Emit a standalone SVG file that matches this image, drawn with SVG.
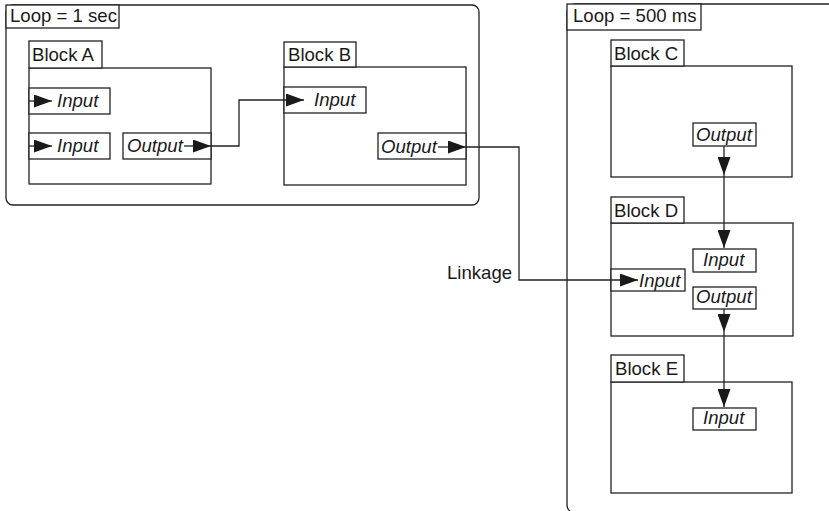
<svg xmlns="http://www.w3.org/2000/svg" width="829" height="511" viewBox="0 0 829 511">
<style>
.box{fill:#fff;stroke:#222;stroke-width:1.3}
.loop{fill:none;stroke:#222;stroke-width:1.3}
.t{font-family:"Liberation Sans",Arial,sans-serif;font-size:18.6px;fill:#1a1a1a}
.i{font-style:italic}
.c{fill:none;stroke:#222;stroke-width:1.3}
</style>
<defs>
<marker id="ah" markerUnits="userSpaceOnUse" markerWidth="18" markerHeight="13" refX="18" refY="6.5" orient="auto">
<path d="M0,0 L18,6.5 L0,13 z" fill="#1a1a1a"/>
</marker>
</defs>
<rect width="829" height="511" fill="#fff"/>

<g id="loop1">
<rect class="loop" x="6" y="5" width="473" height="200" rx="7"/>
<rect class="box" x="6" y="5" width="113" height="23"/>
<text class="t" x="10" y="22">Loop = 1 sec</text>
</g>

<g id="loop2">
<rect class="loop" x="567" y="4" width="320" height="509" rx="8"/>
<rect class="box" x="567" y="4" width="134" height="26"/>
<text class="t" x="573" y="22">Loop = 500 ms</text>
</g>

<g id="blockA">
<rect class="box" x="29" y="68" width="182" height="116"/>
<rect class="box" x="29" y="41" width="73" height="27"/>
<text class="t" x="32" y="61">Block A</text>
<rect class="box" x="29" y="88" width="81" height="26"/>
<text class="t i" x="57" y="107">Input</text>
<rect class="box" x="29" y="133" width="81" height="26"/>
<text class="t i" x="57" y="152">Input</text>
<rect class="box" x="123" y="133" width="88" height="26"/>
<text class="t i" x="127" y="152">Output</text>
</g>

<g id="blockB">
<rect class="box" x="284" y="67" width="182" height="118"/>
<rect class="box" x="284" y="42" width="72" height="25"/>
<text class="t" x="288" y="61">Block B</text>
<rect class="box" x="284" y="87" width="82" height="26"/>
<text class="t i" x="314" y="106">Input</text>
<rect class="box" x="378" y="133" width="88" height="26"/>
<text class="t i" x="381" y="153">Output</text>
</g>

<g id="blockC">
<rect class="box" x="611" y="66" width="181" height="111"/>
<rect class="box" x="611" y="40" width="73" height="26"/>
<text class="t" x="614" y="60">Block C</text>
<rect class="box" x="693" y="123" width="63" height="23"/>
<text class="t i" x="696" y="141">Output</text>
</g>

<g id="blockD">
<rect class="box" x="611" y="223" width="182" height="113"/>
<rect class="box" x="611" y="197" width="73" height="26"/>
<text class="t" x="614" y="217">Block D</text>
<rect class="box" x="693" y="249" width="63" height="23"/>
<text class="t i" x="703" y="266">Input</text>
<rect class="box" x="611" y="269" width="74" height="22"/>
<text class="t i" x="639" y="287">Input</text>
<rect class="box" x="693" y="287" width="63" height="22"/>
<text class="t i" x="696" y="303">Output</text>
</g>

<g id="blockE">
<rect class="box" x="611" y="382" width="181" height="111"/>
<rect class="box" x="611" y="355" width="73" height="27"/>
<text class="t" x="615" y="375">Block E</text>
<rect class="box" x="693" y="408" width="63" height="22"/>
<text class="t i" x="703" y="424">Input</text>
</g>

<g id="linkage-label">
<text class="t" x="447" y="279">Linkage</text>
</g>

<g id="connectors">
<path class="c" d="M29,101 H52" marker-end="url(#ah)"/>
<path class="c" d="M29,146 H52" marker-end="url(#ah)"/>
<path class="c" d="M184,146 H211" marker-end="url(#ah)"/>
<path class="c" d="M211,146 H239 V100 H304" marker-end="url(#ah)"/>
<path class="c" d="M438,147 H466" marker-end="url(#ah)"/>
<path class="c" d="M466,147 H519 V280 H638" marker-end="url(#ah)"/>
<path class="c" d="M724,146 V175" marker-end="url(#ah)"/>
<path class="c" d="M724,175 V248" marker-end="url(#ah)"/>
<path class="c" d="M724,309 V332" marker-end="url(#ah)"/>
<path class="c" d="M724,332 V407" marker-end="url(#ah)"/>
</g>
</svg>
